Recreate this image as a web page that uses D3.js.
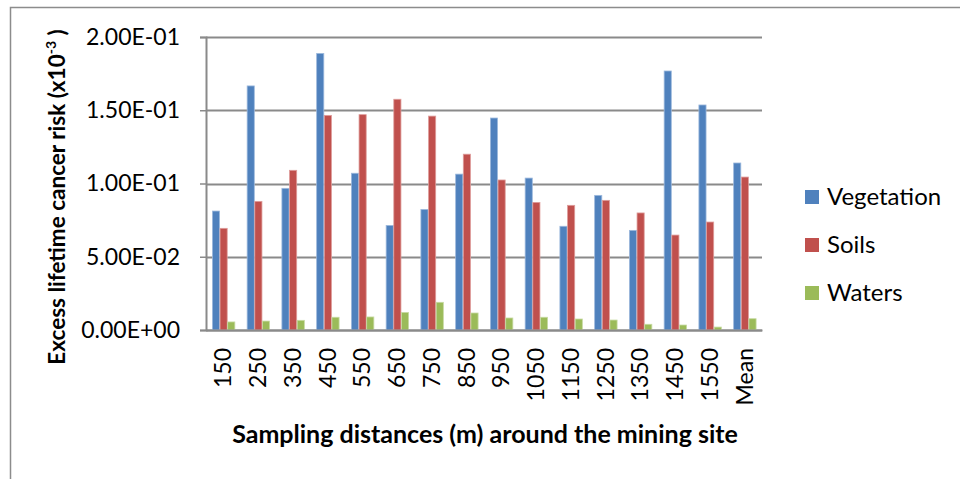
<!DOCTYPE html>
<html>
<head>
<meta charset="utf-8">
<script src="https://cdn.jsdelivr.net/npm/d3@7"></script>
<style>
  html, body { margin: 0; padding: 0; background: #fff; }
  svg { display: block; font-family: Lato, "Open Sans", sans-serif; }
</style>
</head>
<body>
<svg id="chart" width="960" height="479"></svg>
<script>
const categories = ["150","250","350","450","550","650","750","850","950","1050","1150","1250","1350","1450","1550","Mean"];
const vegetation = [0.0812,0.1666,0.0967,0.1888,0.1070,0.0714,0.0823,0.1064,0.1447,0.1037,0.0708,0.0919,0.0680,0.1768,0.1536,0.1140];
const soils      = [0.0694,0.0878,0.1090,0.1465,0.1470,0.1575,0.1460,0.1200,0.1024,0.0871,0.0851,0.0885,0.0799,0.0648,0.0737,0.1044];
const waters     = [0.0055,0.0061,0.0066,0.0087,0.0089,0.0120,0.0189,0.0116,0.0082,0.0087,0.0075,0.0068,0.0039,0.0034,0.0020,0.0077];
const yTicks = [0, 0.05, 0.10, 0.15, 0.20];
const yTickLabels = ["0.00E+00","5.00E-02","1.00E-01","1.50E-01","2.00E-01"];
const seriesNames = ["Vegetation","Soils","Waters"];
const seriesColors = ["#4F81BD","#C0504D","#9BBB59"];
const seriesEdge = ["#9DB9DD","#DE9D9B","#C7DAA3"];
const seriesData = [vegetation, soils, waters];

const svg = d3.select("#chart");
const plot = {left: 206, right: 762, top: 37, bottom: 330};

// outer frame
svg.append("path")
  .attr("d", `M10.5,479 L10.5,7.5 L960,7.5`)
  .attr("fill","none").attr("stroke","#8c8c8c").attr("stroke-width",1.5);

const x = d3.scaleBand().domain(categories).range([plot.left, plot.right]).paddingInner(0).paddingOuter(0);
const y = d3.scaleLinear().domain([0, 0.2]).range([plot.bottom, plot.top]);
const groupW = x.bandwidth() * 0.66;
const xs = d3.scaleBand().domain(seriesNames).range([0, groupW]).padding(0);

// gridlines
svg.append("g").selectAll("line").data(yTicks).join("line")
  .attr("x1", plot.left).attr("x2", plot.right)
  .attr("y1", d => Math.round(y(d)) + 0.5).attr("y2", d => Math.round(y(d)) + 0.5)
  .attr("stroke", "#8a8a8a").attr("stroke-width", 2);

// y axis
const yAxis = d3.axisLeft(y).tickValues(yTicks)
  .tickFormat((d,i) => yTickLabels[i]).tickSize(6).tickPadding(20);
const gy = svg.append("g").attr("transform", `translate(${plot.left},0)`).call(yAxis);
gy.select(".domain").attr("stroke","#8a8a8a").attr("stroke-width",2);
gy.selectAll(".tick line").attr("stroke","#8a8a8a").attr("stroke-width",1.5);
gy.selectAll("text").attr("font-size", 23).attr("fill","#000").attr("font-family","Lato, sans-serif");

// bars
seriesNames.forEach((name, si) => {
  svg.append("g").selectAll("rect").data(categories).join("rect")
    .attr("x", (c) => x(c) + (x.bandwidth() - groupW)/2 + xs(name) + 0.5)
    .attr("y", (c, i) => y(seriesData[si][i]))
    .attr("width", xs.bandwidth() - 0.5)
    .attr("height", (c, i) => y(0) - y(seriesData[si][i]))
    .attr("fill", seriesColors[si])
    .attr("stroke", seriesEdge[si]).attr("stroke-width", 0.8);
});

// x axis
const xAxis = d3.axisBottom(x).tickSize(0).tickPadding(0);
const gx = svg.append("g").attr("transform", `translate(0,${plot.bottom})`).call(xAxis);
gx.select(".domain").attr("stroke","#8a8a8a").attr("stroke-width",2);
gx.selectAll("text")
  .attr("font-size", 23).attr("fill","#000").attr("font-family","Lato, sans-serif")
  .attr("transform","rotate(-90)")
  .attr("text-anchor","end")
  .attr("dy","0.35em")
  .attr("x", -18).attr("y", 0);

// axis titles
svg.append("text")
  .attr("x", 485).attr("y", 443)
  .attr("text-anchor","middle").attr("font-weight","bold").attr("font-size", 25)
  .text("Sampling distances (m) around the mining site");

const yt = svg.append("text")
  .attr("transform","translate(65,197) rotate(-90)")
  .attr("text-anchor","middle").attr("font-weight","bold").attr("font-size", 22.5);
yt.append("tspan").text("Excess lifetime cancer risk (x10");
yt.append("tspan").attr("font-size", 14).attr("dy", -9).text("-3");
yt.append("tspan").attr("dy", 9).text(" )");

// legend
const lg = svg.append("g").selectAll("g").data(seriesNames).join("g")
  .attr("transform", (d,i) => `translate(805,${197 + i*48})`);
lg.append("rect").attr("x",0).attr("y",-7).attr("width",14).attr("height",14)
  .attr("fill",(d,i)=>seriesColors[i]);
lg.append("text").attr("x", 22).attr("y", 0).attr("dy","0.35em")
  .attr("font-size", 24).text(d => d);
</script>
</body>
</html>
